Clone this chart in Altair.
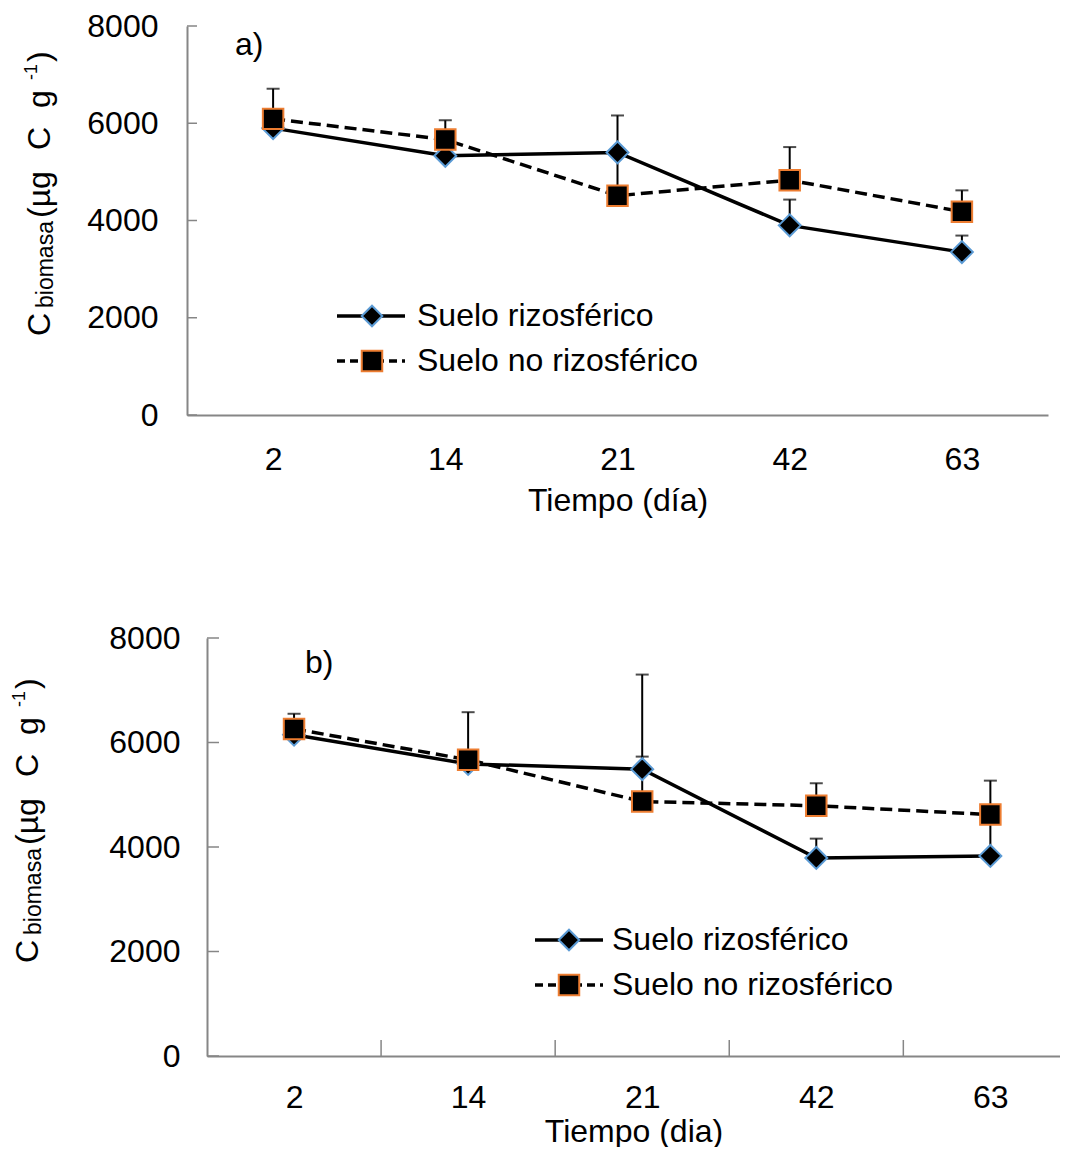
import altair as alt
import pandas as pd

# ---------------- data ----------------
days = ["2", "14", "21", "42", "63"]
idx = [0, 1, 2, 3, 4]

# panel a)
rizo_a = [5900, 5330, 5400, 3900, 3350]
rizo_a_up = [6050, 5600, 6160, 4430, 3690]
norizo_a = [6090, 5665, 4510, 4830, 4180]
norizo_a_up = [6710, 6060, 5400, 5510, 4620]

# panel b)
rizo_b = [6150, 5590, 5490, 3790, 3830]
rizo_b_up = [6250, 5750, 7300, 4160, 4550]
norizo_b = [6260, 5670, 4870, 4790, 4620]
norizo_b_up = [6550, 6580, 5730, 5220, 5270]

y_ticks = [0, 2000, 4000, 6000, 8000]
band_edges = [0.5, 1.5, 2.5, 3.5]
series_names = ["Suelo rizosférico", "Suelo no rizosférico"]
x_title_a = "Tiempo (día)"
x_title_b = "Tiempo (dia)"
# y title pieces: (text, font size, kind)
y_title_parts = [("C", 32, "main"), ("biomasa", 23, "sub"), ("(µg", 32, "main"),
                 ("C", 32, "main"), ("g", 32, "main"), ("-1", 18, "sup"), (")", 32, "main")]

FONT = "Liberation Sans"
BLUE = "#5B9BD5"
ORANGE = "#ED7D31"
AXIS_GRAY = "#868686"

label_expr = "[" + ",".join("'%s'" % d for d in days) + "][datum.value]"

# along-text offsets of title pieces (px from the bottom of the first "C")
title_along = [0, 28, 118, 186, 228, 256, 274]
title_cross = {"main": 0, "sub": 3, "sup": -13}


def panel(rz, rz_up, nr, nr_up, width, height, x0, xmax, x_title, tag, tag_pos,
          leg, title_base, show_xticks, ytick_len, ylab_pad, xlab_pad, xtitle_pad):
    df_r = pd.DataFrame({"idx": idx, "day": days, "v": rz, "up": rz_up})
    df_n = pd.DataFrame({"idx": idx, "day": days, "v": nr, "up": nr_up})

    xscale = alt.Scale(domain=[-0.5, xmax], range=[x0, width], nice=False, zero=False)
    yscale = alt.Scale(domain=[0, 8000], nice=False)
    xaxis = alt.Axis(values=idx, labelExpr=label_expr, ticks=False, tickSize=0, grid=False,
                     title=x_title, labelPadding=xlab_pad, titlePadding=xtitle_pad,
                     labelAngle=0)
    yaxis = alt.Axis(values=y_ticks, ticks=False, tickSize=0, grid=False, title=None,
                     labelPadding=ylab_pad, format="d", offset=-x0)

    def X(f="idx:Q"):
        return alt.X(f, scale=xscale, axis=xaxis)

    def Y(f="v:Q"):
        return alt.Y(f, scale=yscale, axis=yaxis)

    layers = []
    # inside y ticks
    layers.append(alt.Chart(pd.DataFrame({"t": y_ticks})).mark_rule(color=AXIS_GRAY, strokeWidth=1.5)
                  .encode(y=Y("t:Q"), x=alt.value(x0), x2=alt.value(x0 + ytick_len)))
    if show_xticks:
        layers.append(alt.Chart(pd.DataFrame({"e": band_edges})).mark_rule(color=AXIS_GRAY, strokeWidth=1.5)
                      .encode(x=X("e:Q"), y=alt.value(height), y2=alt.value(height - 16)))
    # error bars (upper only)
    for df in (df_r, df_n):
        layers.append(alt.Chart(df).mark_rule(color="black", strokeWidth=2)
                      .encode(x=X(), y=Y(), y2="up:Q"))
        layers.append(alt.Chart(df).mark_tick(color="black", thickness=2, size=13, orient="horizontal")
                      .encode(x=X(), y=Y("up:Q")))
    # lines
    layers.append(alt.Chart(df_r).mark_line(color="black", strokeWidth=3.5).encode(x=X(), y=Y()))
    layers.append(alt.Chart(df_n).mark_line(color="black", strokeWidth=3.5, strokeDash=[12, 6])
                  .encode(x=X(), y=Y()))
    # markers
    layers.append(alt.Chart(df_r).mark_point(shape="diamond", filled=True, fill="black", stroke=BLUE,
                                             strokeWidth=2, size=480, opacity=1)
                  .encode(x=X(), y=Y()))
    layers.append(alt.Chart(df_n).mark_point(shape="square", filled=True, fill="black", stroke=ORANGE,
                                             strokeWidth=2, size=420, opacity=1)
                  .encode(x=X(), y=Y()))

    # panel tag
    layers.append(alt.Chart(pd.DataFrame({"s": [tag]})).mark_text(font=FONT, fontSize=32, align="left",
                                                                  baseline="middle", color="black")
                  .encode(text="s:N", x=alt.value(tag_pos[0]), y=alt.value(tag_pos[1])))

    # manual legend
    lx0, lx1, lm, lt, ly0, ly1 = leg
    layers.append(alt.Chart(pd.DataFrame({"s": [series_names[0]]})).mark_rule(color="black", strokeWidth=3.5)
                  .encode(x=alt.value(lx0), x2=alt.value(lx1), y=alt.value(ly0)))
    layers.append(alt.Chart(pd.DataFrame({"s": [series_names[1]]})).mark_rule(color="black", strokeWidth=3.5,
                                                                              strokeDash=[8, 5])
                  .encode(x=alt.value(lx0), x2=alt.value(lx1), y=alt.value(ly1)))
    layers.append(alt.Chart(pd.DataFrame({"s": [series_names[0]]})).mark_point(
        shape="diamond", filled=True, fill="black", stroke=BLUE, strokeWidth=2, size=420, opacity=1)
        .encode(x=alt.value(lm), y=alt.value(ly0)))
    layers.append(alt.Chart(pd.DataFrame({"s": [series_names[1]]})).mark_point(
        shape="square", filled=True, fill="black", stroke=ORANGE, strokeWidth=2, size=420, opacity=1)
        .encode(x=alt.value(lm), y=alt.value(ly1)))
    for name, ly in ((series_names[0], ly0), (series_names[1], ly1)):
        layers.append(alt.Chart(pd.DataFrame({"s": [name]})).mark_text(font=FONT, fontSize=32, align="left",
                                                                       baseline="middle", color="black")
                      .encode(text="s:N", x=alt.value(lt), y=alt.value(ly)))

    # rotated rich y title
    bx, by = title_base
    for (txt, fs, kind), along in zip(y_title_parts, title_along):
        layers.append(alt.Chart(pd.DataFrame({"s": [txt]})).mark_text(
            font=FONT, fontSize=fs, angle=270, align="left", baseline="alphabetic", color="black")
            .encode(text="s:N", x=alt.value(bx + title_cross[kind]), y=alt.value(by - along)))

    return alt.layer(*layers).properties(width=width, height=height)


top = panel(rizo_a, rizo_a_up, norizo_a, norizo_a_up, 861, 389, 0, 4.5, x_title_a, "a)", (48, 19),
            (150, 218, 185, 230, 290, 335), (-137, 310), False, 10, 29, 29, 10)
bottom = panel(rizo_b, rizo_b_up, norizo_b, norizo_b_up, 873, 418, 20, 4.4, x_title_b, "b)", (118, 25),
               (348, 416, 382, 425, 302, 347), (-149, 325), True, 12, 27, 26, 3)

chart = alt.vconcat(top, bottom, spacing=106).properties(
    padding={"left": 3, "top": 2, "right": 0, "bottom": 0}
).configure_view(
    strokeWidth=0
).configure_axis(
    labelFont=FONT, titleFont=FONT, labelFontSize=32, titleFontSize=32, titleFontWeight="normal",
    labelColor="black", titleColor="black", domainColor=AXIS_GRAY, domainWidth=2
)

chart.save("out.html", embed_options={"renderer": "svg", "actions": False})
